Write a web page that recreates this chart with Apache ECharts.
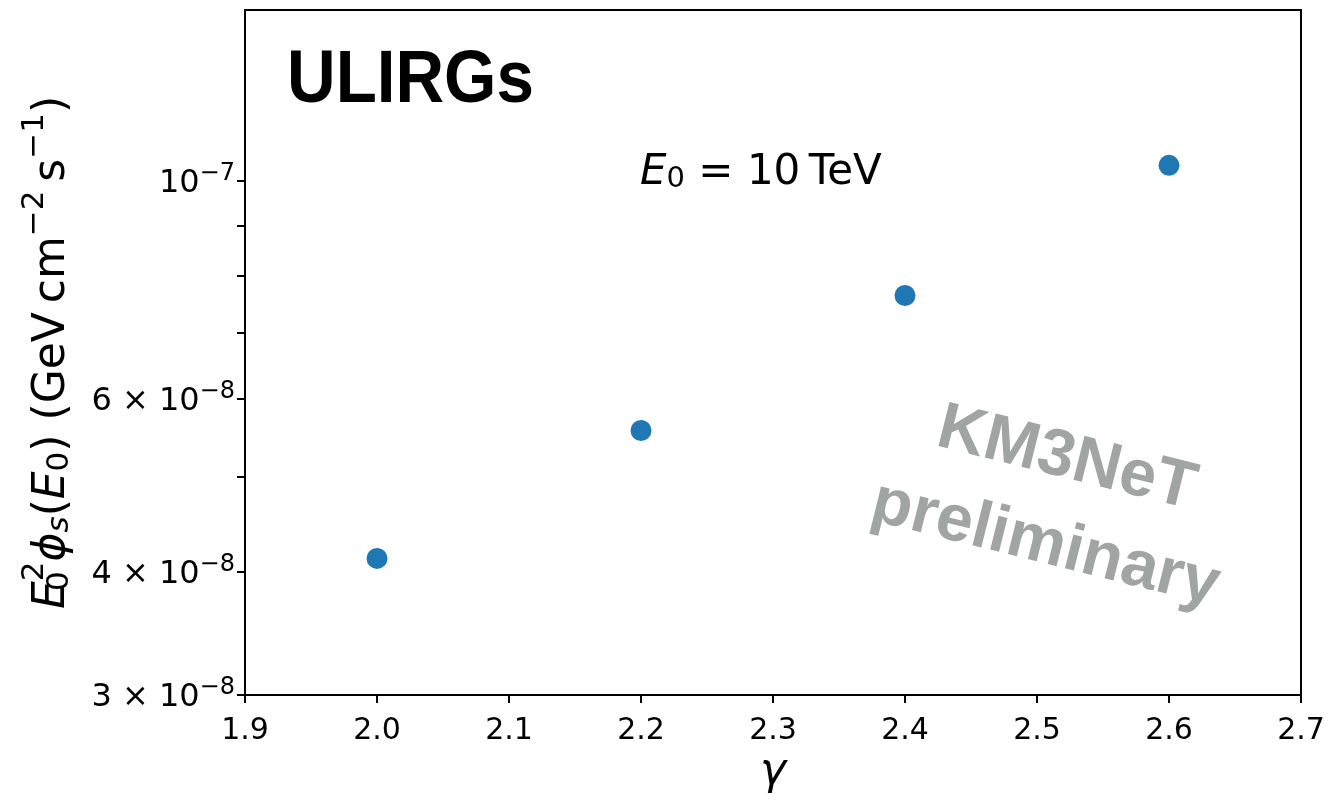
<!DOCTYPE html>
<html>
<head>
<meta charset="utf-8">
<script src="https://cdn.jsdelivr.net/npm/echarts@6/dist/echarts.min.js"></script>
<style>html,body{margin:0;padding:0;background:#fff}#c{width:1342px;height:802px}</style>
</head>
<body>
<div id="c"></div>
<script>
// ---- data ----
const gammaValues = [2.0, 2.2, 2.4, 2.6];
const fluxValues = [4.13e-8, 5.57e-8, 7.64e-8, 1.036e-7];
const xTickLabels = ['1.9', '2.0', '2.1', '2.2', '2.3', '2.4', '2.5', '2.6', '2.7'];
const yLabelValues = [3e-8, 4e-8, 6e-8, 1e-7];
const yLabelTexts = ['{m|3 × 10}{e|−8}', '{m|4 × 10}{e|−8}', '{m|6 × 10}{e|−8}', '{m|10}{e|−7}'];
const yMinorTickValues = [5e-8, 7e-8, 8e-8, 9e-8];
const yRange = [3e-8, 1.49e-7];
const xRange = [1.9, 2.7];

const L = Math.log10;
const F = 'DejaVu Sans';
const chart = echarts.init(document.getElementById('c'), null, {renderer: 'canvas'});

const tickVals = yLabelValues.concat(yMinorTickValues).map(L);
const labelVals = yLabelValues.map(L);

const nameRich = {
  n: {fontFamily: F, fontSize: 44, lineHeight: 56, verticalAlign: 'bottom', color: '#000'},
  i: {fontFamily: F, fontStyle: 'italic', fontSize: 44, lineHeight: 56, verticalAlign: 'bottom', color: '#000'},
  sb: {fontFamily: F, fontSize: 31, lineHeight: 35, verticalAlign: 'bottom', color: '#000'},
  sb0: {fontFamily: F, fontSize: 31, lineHeight: 35, verticalAlign: 'bottom', color: '#000', width: 0},
  si: {fontFamily: F, fontStyle: 'italic', fontSize: 31, lineHeight: 35, verticalAlign: 'bottom', color: '#000'},
  sp: {fontFamily: F, fontSize: 31, lineHeight: 31, verticalAlign: 'top', color: '#000'}
};

const option = {
  animation: false,
  backgroundColor: '#fff',
  grid: {left: 245, right: 41, top: 10, bottom: 107, show: true, borderColor: '#000', borderWidth: 2, containLabel: false},
  xAxis: {
    type: 'value', min: xRange[0], max: xRange[1], interval: 0.1,
    name: 'γ', nameLocation: 'middle', nameGap: 56,
    nameTextStyle: {fontFamily: F, fontStyle: 'italic', fontSize: 44, color: '#000'},
    axisLine: {show: true, lineStyle: {color: '#000', width: 2}},
    axisTick: {show: true, inside: false, length: 8, lineStyle: {color: '#000', width: 2}},
    axisLabel: {fontFamily: F, fontSize: 30, color: '#000', margin: 21,
      formatter: v => xTickLabels[Math.round((v - xRange[0]) * 10)] || ''},
    splitLine: {show: false}
  },
  yAxis: {
    type: 'value', min: L(yRange[0]), max: L(yRange[1]),
    name: '{i|E}{sb0|0}{sp|2}{i|ϕ}{si|s}{n|(}{i|E}{sb|0}{n|) (GeV\u2009cm}{sp|−2}{n|\u2009s}{sp|−1}{n|)}',
    nameLocation: 'middle', nameGap: 170, nameRotate: 90,
    nameTextStyle: {rich: nameRich},
    axisLine: {show: true, lineStyle: {color: '#000', width: 2}},
    axisTick: {show: true, inside: false, length: 8, customValues: tickVals, lineStyle: {color: '#000', width: 2}},
    axisLabel: {
      customValues: labelVals, margin: 10, fontFamily: F, fontSize: 32, color: '#000',
      formatter: v => {
        for (let k = 0; k < labelVals.length; k++) if (Math.abs(v - labelVals[k]) < 1e-6) return yLabelTexts[k];
        return '';
      },
      rich: {
        m: {fontFamily: F, fontSize: 32, lineHeight: 38, verticalAlign: 'bottom', color: '#000'},
        e: {fontFamily: F, fontSize: 24, lineHeight: 22, verticalAlign: 'top', color: '#000'}
      }
    },
    splitLine: {show: false}
  },
  graphic: [
    {type: 'text', x: 287, y: 82, scaleX: 0.91, style: {text: 'ULIRGs', font: 'bold 74px "Liberation Sans"', fill: '#000', textAlign: 'left', textVerticalAlign: 'middle'}},
    {type: 'text', x: 640, y: 167, style: {
      text: '{i|E}{sb|0}{n| = 10\u2009TeV}', textAlign: 'left', textVerticalAlign: 'middle',
      rich: {
        n: {fontFamily: F, fontSize: 42, lineHeight: 54, verticalAlign: 'bottom', fill: '#000'},
        i: {fontFamily: F, fontStyle: 'italic', fontSize: 42, lineHeight: 54, verticalAlign: 'bottom', fill: '#000'},
        sb: {fontFamily: F, fontSize: 29, lineHeight: 33, verticalAlign: 'bottom', fill: '#000'}
      }}},
    {type: 'text', x: 1056, y: 502, rotation: -14 * Math.PI / 180, style: {
      text: 'KM3NeT\npreliminary', font: 'bold 66px "Liberation Sans"', fill: '#a0a4a3',
      textAlign: 'center', textVerticalAlign: 'middle', lineHeight: 88}}
  ],
  series: [{
    type: 'scatter', symbol: 'circle', symbolSize: 21,
    itemStyle: {color: '#1f77b4', opacity: 1},
    data: gammaValues.map((g, k) => [g, L(fluxValues[k])])
  }]
};
chart.setOption(option);
</script>
</body>
</html>
